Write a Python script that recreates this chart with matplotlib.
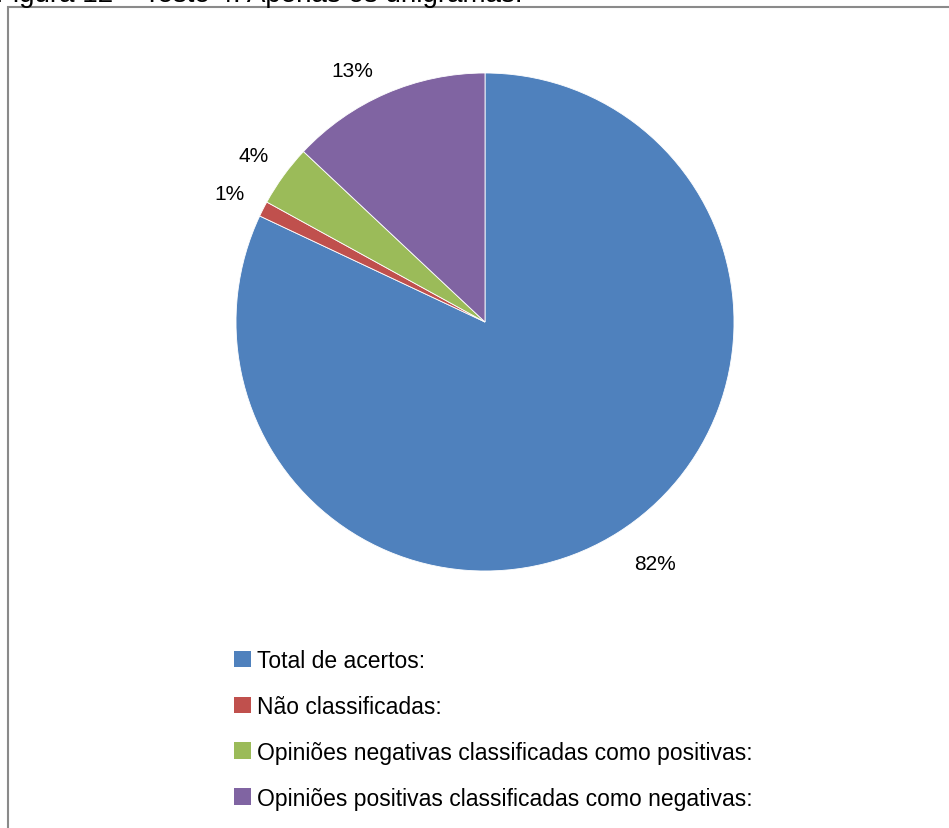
import matplotlib
matplotlib.use("Agg")
import matplotlib.pyplot as plt
from matplotlib.patches import Patch, Rectangle
import numpy as np

categories = ["Total de acertos:", "Não classificadas:",
              "Opiniões negativas classificadas como positivas:",
              "Opiniões positivas classificadas como negativas:"]
values = [82, 1, 4, 13]
colors = ["#4F81BD", "#C0504D", "#9BBB59", "#8064A2"]
title = "Figura 12 – Teste 4: Apenas os unigramas."

FONT = ["Liberation Sans", "DejaVu Sans"]
plt.rcParams['font.family'] = FONT

W, H = 949, 829
fig = plt.figure(figsize=(W / 100, H / 100), dpi=100)
fig.patch.set_facecolor("white")

# Border of the chart area
fig.patches.append(Rectangle((8 / W, -0.01), 1.02, 1 - 8 / H + 0.01, transform=fig.transFigure,
                             fill=False, edgecolor="#8a8a8a", linewidth=1.5))

# Cut-off caption above
fig.text(-4 / W, 1 - 2 / H, title, fontsize=20, ha="left", va="baseline", color="black")

cx, cy, r = 485, 323, 249
ax = fig.add_axes([(cx - r) / W, 1 - (cy + r) / H, 2 * r / W, 2 * r / H])
wedges, _ = ax.pie(values, colors=colors, startangle=90, counterclock=False,
                   radius=1, wedgeprops=dict(edgecolor="white", linewidth=0.6))
ax.set_xlim(-1, 1)
ax.set_ylim(-1, 1)
ax.set_aspect("equal")
ax.axis("off")

dists = [1.14, 1.15, 1.15, 1.11]
shifts = [0.07, 0, 0, -0.093]
for w, v, d, s in zip(wedges, values, dists, shifts):
    ang = np.deg2rad((w.theta1 + w.theta2) / 2)
    ax.text(d * np.cos(ang) + s, d * np.sin(ang), f"{v}%", ha="center", va="center_baseline",
            fontsize=15, color="black", clip_on=False)

handles = [Patch(facecolor=c, edgecolor="none") for c in colors]
leg = fig.legend(handles, categories, loc="upper left", bbox_to_anchor=(234 / W, 1 - 650 / H),
                 frameon=False, fontsize=16.5, handlelength=0.75, handleheight=0.75,
                 handletextpad=0.25, labelspacing=1.0, borderpad=0, borderaxespad=0)

fig.savefig("out.png", dpi=100, facecolor="white")
